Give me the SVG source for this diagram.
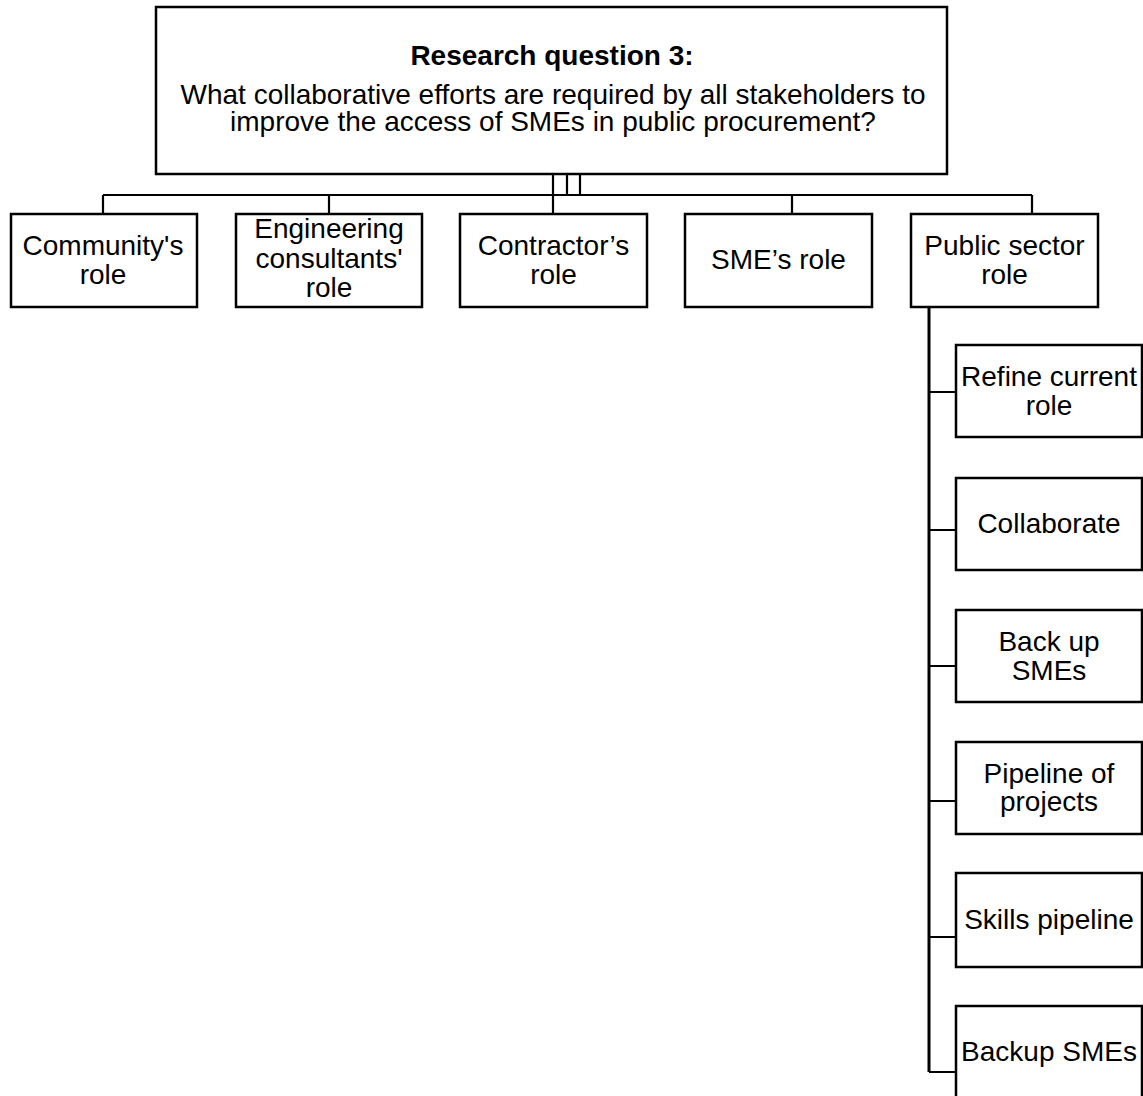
<svg xmlns="http://www.w3.org/2000/svg" width="1143" height="1096" viewBox="0 0 1143 1096">
  <style>
    .box { fill: #ffffff; stroke: #000000; stroke-width: 2.5; }
    .txt { font-family: "Liberation Sans", Arial, sans-serif; font-size: 28px; fill: #000000; text-anchor: middle; }
    .bold { font-weight: bold; }
    .wire { fill: none; stroke: #000000; stroke-width: 2.2; }
    .spine { fill: none; stroke: #000000; stroke-width: 3; }
  </style>
  <rect x="0" y="0" width="1143" height="1096" fill="#ffffff"/>

  <!-- connectors -->
  <g id="connectors">
    <!-- stubs under the question box -->
    <path class="wire" d="M553 175 V195 M567 175 V195 M580 175 V195"/>
    <!-- horizontal bus -->
    <path class="wire" d="M103 195 H1032"/>
    <!-- drops to the stakeholder boxes -->
    <path class="wire" d="M103 195 V214 M329 195 V214 M553 195 V214 M792 195 V214 M1032 195 V214"/>
    <!-- vertical spine under public sector role -->
    <path class="spine" d="M929 307 V1072"/>
    <!-- branches to public sector actions -->
    <path class="wire" d="M929 392 H956 M929 530 H956 M929 666 H956 M929 801 H956 M929 937 H956 M929 1072 H956"/>
  </g>

  <!-- research question -->
  <g id="rq3">
    <rect class="box" x="156" y="7" width="791" height="167"/>
    <text class="txt bold" x="552" y="65">Research question 3:</text>
    <text class="txt" x="553" y="104">What collaborative efforts are required by all stakeholders to</text>
    <text class="txt" x="553" y="131">improve the access of SMEs in public procurement?</text>
  </g>

  <!-- stakeholder roles -->
  <g id="community">
    <rect class="box" x="11" y="214" width="186" height="93"/>
    <text class="txt" x="103" y="255">Community's</text>
    <text class="txt" x="103" y="284">role</text>
  </g>
  <g id="engineering">
    <rect class="box" x="236" y="214" width="186" height="93"/>
    <text class="txt" x="329" y="238">Engineering</text>
    <text class="txt" x="329" y="268">consultants'</text>
    <text class="txt" x="329" y="297">role</text>
  </g>
  <g id="contractor">
    <rect class="box" x="460" y="214" width="187" height="93"/>
    <text class="txt" x="553.5" y="255">Contractor’s</text>
    <text class="txt" x="553.5" y="284">role</text>
  </g>
  <g id="sme">
    <rect class="box" x="685" y="214" width="187" height="93"/>
    <text class="txt" x="778.5" y="269">SME’s role</text>
  </g>
  <g id="public-sector">
    <rect class="box" x="911" y="214" width="187" height="93"/>
    <text class="txt" x="1004.5" y="255">Public sector</text>
    <text class="txt" x="1004.5" y="284">role</text>
  </g>

  <!-- public sector actions -->
  <g id="refine">
    <rect class="box" x="956" y="345" width="186" height="92"/>
    <text class="txt" x="1049" y="386">Refine current</text>
    <text class="txt" x="1049" y="415">role</text>
  </g>
  <g id="collaborate">
    <rect class="box" x="956" y="478" width="186" height="92"/>
    <text class="txt" x="1049" y="533">Collaborate</text>
  </g>
  <g id="back-up">
    <rect class="box" x="956" y="610" width="186" height="92"/>
    <text class="txt" x="1049" y="651">Back up</text>
    <text class="txt" x="1049" y="680">SMEs</text>
  </g>
  <g id="pipeline-projects">
    <rect class="box" x="956" y="742" width="186" height="92"/>
    <text class="txt" x="1049" y="783">Pipeline of</text>
    <text class="txt" x="1049" y="811">projects</text>
  </g>
  <g id="skills">
    <rect class="box" x="956" y="873" width="186" height="94"/>
    <text class="txt" x="1049" y="929">Skills pipeline</text>
  </g>
  <g id="backup-smes">
    <rect class="box" x="956" y="1006" width="186" height="100"/>
    <text class="txt" x="1049" y="1061">Backup SMEs</text>
  </g>
</svg>
